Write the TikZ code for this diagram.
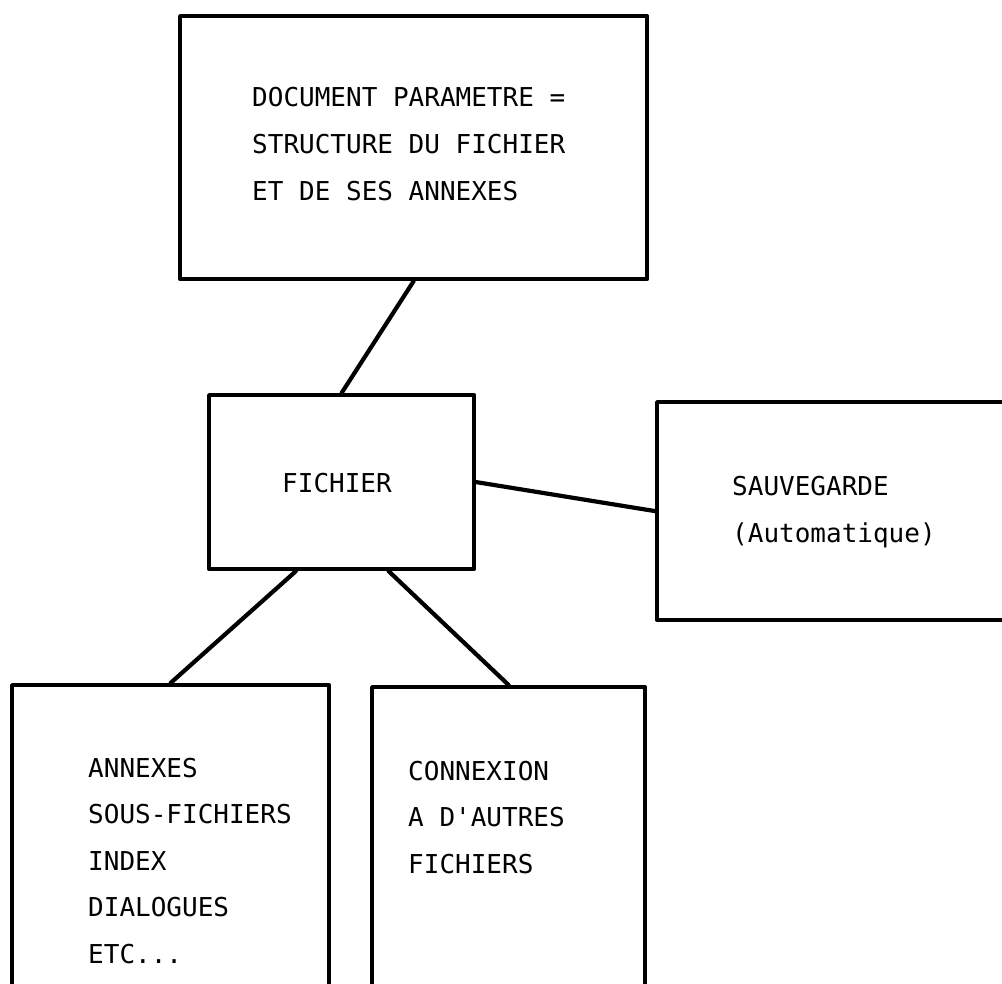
\documentclass[tikz,border=0pt]{standalone}
\usepackage{fontspec}
\setmonofont{DejaVu Sans Mono}
\usetikzlibrary{calc}
\begin{document}
\begin{tikzpicture}[x=1pt,y=-1pt,
  box/.style={draw, line width=4.2pt, line join=round, rectangle,
    inner sep=0pt, anchor=north west},
  link/.style={line width=4.2pt, line cap=round},
  txt/.style={font=\ttfamily\fontsize{26}{46.5}\selectfont, align=left,
    inner sep=0pt, anchor=base west}]
\useasboundingbox (0,0) rectangle (1002,984);
\clip (0,0) rectangle (1002,984);

% boxes
\node[box, minimum width=467pt, minimum height=263pt] (doc) at (178,14) {};
\node[box, minimum width=265pt, minimum height=174pt] (fic) at (207,393) {};
\node[box, minimum width=380pt, minimum height=218pt] (sauv) at (655,400) {};
\node[box, minimum width=317pt, minimum height=340pt] (ann) at (10,683) {};
\node[box, minimum width=273pt, minimum height=340pt] (con) at (370,685) {};

% texts (anchored at the baseline of their last line)
\node[txt, font=\ttfamily\fontsize{26}{47}\selectfont] (tdoc) at (252,201)
  {DOCUMENT PARAMETRE =\\STRUCTURE DU FICHIER\\ET DE SES ANNEXES};
\node[txt] (tfic) at (282,492) {FICHIER};
\node[txt, font=\ttfamily\fontsize{26}{47}\selectfont] (tsauv) at (732,542)
  {SAUVEGARDE\\(Automatique)};
\node[txt] (tann) at (88,963)
  {ANNEXES\\SOUS-FICHIERS\\INDEX\\DIALOGUES\\ETC...};
\node[txt] (tcon) at (408,873) {CONNEXION\\A D\char39AUTRES\\FICHIERS};

% connectors
\draw[link] (doc.south) -- (fic.north);
\draw[link] (fic.east) -- (sauv.west);
\draw[link] ($(fic.south west)!0.33!(fic.south east)$) -- (ann.north);
\draw[link] ($(fic.south west)!0.675!(fic.south east)$) -- (con.north);
\end{tikzpicture}
\end{document}
